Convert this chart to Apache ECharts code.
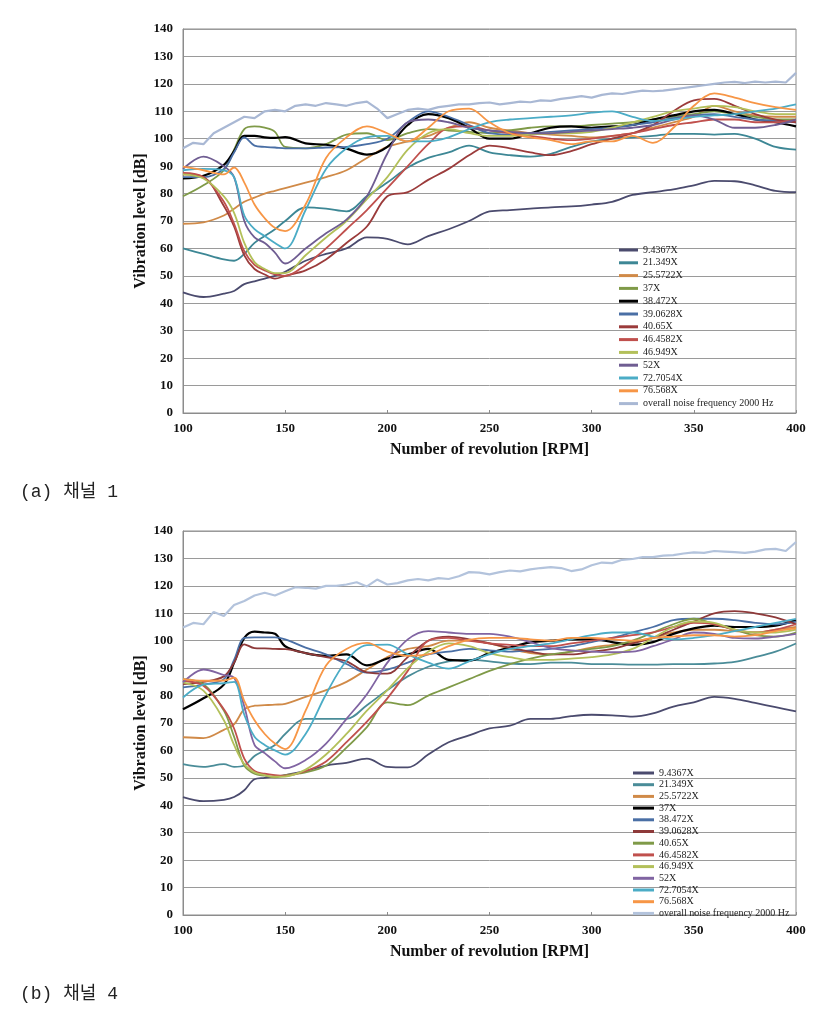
<!DOCTYPE html>
<html>
<head>
<meta charset="utf-8">
<script src="https://cdn.jsdelivr.net/npm/echarts@6/dist/echarts.min.js"></script>
<style>
html,body{margin:0;padding:0;background:#fff;}
#chart{width:825px;height:1012px;}
</style>
</head>
<body>
<div id="chart"></div>
<script>
// ---- Data ----
const seriesNames1 = ['9.4367X','21.349X','25.5722X','37X','38.472X','39.0628X','40.65X','46.4582X','46.949X','52X','72.7054X','76.568X','overall noise frequency 2000 Hz'];
const seriesNames2 = ['9.4367X','21.349X','25.5722X','37X','38.472X','39.0628X','40.65X','46.4582X','46.949X','52X','72.7054X','76.568X','overall noise frequency 2000 Hz'];
const xTicks = [100,150,200,250,300,350,400];
const yTicks = [0,10,20,30,40,50,60,70,80,90,100,110,120,130,140];

const rpm = [100,110,120,125,130,135,140,145,150,160,170,180,190,200,210,220,230,240,250,260,270,280,290,300,310,320,330,340,350,360,370,380,390,400];
const rpmFine = [100,105,110,115,120,125,130,135,140,145,150,155,160,165,170,175,180,185,190,195,200,205,210,215,220,225,230,235,240,245,250,255,260,265,270,275,280,285,290,295,300,305,310,315,320,325,330,335,340,345,350,355,360,365,370,375,380,385,390,395,400];

// Channel 1
const c1_94367 = [44,42.3,43.5,44.5,47,48,49,50,51.5,55.5,58,60,64,63.5,61.5,64.5,67,70,73.5,74,74.5,75,75.3,76,77,79.5,80.5,81.5,83,84.6,84.5,83,81,80.5];
const c1_21349 = [60,58,56,55.5,58,62,64.5,67,70,75,74.5,73.5,79,84,89.5,93,95,97.5,95,94,93.5,94.5,97,99,100,100.5,101,101.8,101.8,101.5,101.8,100,97,96];
const c1_255722 = [69,69.5,72,74.5,77,78.5,80,81,82,84,86,88.5,93,97,99,101,104,106,104,103,102,101.5,101,100.5,101,102,104,106,108,112,110,108.5,108,108];
const c1_37 = [79,83,88.5,96,103.5,104.5,104,102.5,97,96.5,98,101.5,102,99.5,102,103.5,103,102.5,102,103,104,104.5,104.5,105,105.5,106,107,108,109,110,109,108,107,107];
const c1_38472 = [85.5,86.5,90.5,95.5,101,101,100.5,100.3,100.6,98.3,97.8,96.4,94.2,97,105,109,107.5,104,100,100,102,104,104.5,104,104.5,105,107,108.5,110,110.5,109,107,106,104.5];
const c1_390628 = [86,86,89,95,100.5,97.5,97,96.8,96.5,96.5,96.8,97,98,100,106,110,108,105,102,101.5,102,102.5,103,103.5,104,105,106,107.5,108.5,109,108,107,106.5,106];
const c1_4065 = [87,86,75.5,68,57.5,52.5,50.5,49,50,52,56,62,68,79,80.5,85,89,94,97.5,96.5,95,94,95.5,98,100,102,105,110,114,114.5,112,109,107,106];
const c1_464582 = [87.5,86,77,69,59,54,52,50.5,50,54,60,67,74,82,90,98,104,104.5,103,102,101,100,99.5,100,101,102,103.5,105,106,107,107,106,106,107];
const c1_46949 = [87,85.5,79,73,62,55,52.5,51,51,57.5,64,70,78,86,96,102,103.5,102,101,101,101.5,102,102,102.5,104,106,108,110,111,112,111.5,110,109,109];
const c1_52 = [89,93.5,90,86,70,64,62,58.5,54.5,60,65.5,70.5,79,94.6,106,107,106,104,103,102.5,102,102,102.5,103,103.5,104,105,107,108.5,107,104,104,105,107];
const c1_727054 = [88.5,89,88.5,86,72,67,64.5,62,60,74,89,96.5,100.5,101,99,99,100.5,103.5,106,107,107.5,108,108.5,109.5,110,108,106.5,107,108,108.5,109,110,111,112.5];
const c1_76568 = [89.8,88.5,87,89.5,84,76,71,67.5,66.3,76,93,100.5,104.5,102,99,104,110,111,106,102,100.5,99.5,98,99,99,101,98.5,104,112,116.5,115,113,111.5,110.5];
const c1_overall = [96.5,98.5,98,102,104,106,108,107.5,110,110.5,110,112,112.5,112,113,112.5,112,113,113.5,111,107.5,109,110.5,111,110.5,111.5,112,112.5,112.5,113,113.2,112.5,113,113.5,113.3,114,113.8,114.5,115,115.5,115,116,116.5,116.3,117,117.5,117.3,117.5,118,118.5,119,119.5,120,120.5,120.7,120.3,120.8,120.5,120.8,120.5,124];

// Channel 4
const c2_94367 = [43,41.5,42,43,45.5,49.5,50,50.5,51,52.5,54.5,55.5,57,54,53.8,58.5,63,65.5,68,69,71.5,71.5,72.5,73,72.8,72.3,73.5,76,77.5,79.5,78.8,77.3,75.8,74.2];
const c2_21349 = [55,54,55,54,54.5,58,60,62,66,71.5,71.5,71.5,76.5,82,87,90.5,92.5,93,92.5,91.7,91.5,92,92,91.5,91.5,91.3,91.3,91.5,91.5,91.7,92.3,94,96,99];
const c2_255722 = [64.8,64.5,67.5,69.5,75,76.3,76.5,76.7,77,79.5,82,85,89.5,94,97,98,100,100,99,97,95.5,95,96,97.5,98.5,99.5,101,103,104,104,103.5,103,104,105];
const c2_37 = [75,79,84,92,101,103.3,103,102.5,98,95.5,94.5,95,91,93.5,95,97,93,92.7,95.5,97.5,99.4,100,100.5,100.6,99.5,98.5,99.5,102.5,104.5,105.5,105,105,105.5,107.5];
const c2_38472 = [83,84,86,93,101,101.2,101.2,101.2,100.5,97.5,95,91.5,88.4,89.5,92,95,96,97,96.5,96,96.5,97,98,99.5,101,103,105,107.5,108,108,107.5,106.5,106,107];
const c2_390628 = [84.2,85,87,92,98.7,97.3,97.2,97,96.9,95.5,94,92.5,88.5,88,94,100,101.5,100.5,99,97.5,96,95,95,96,97,99,101,104,107,110,110.8,110,108.5,106];
const c2_4065 = [86,84.2,74.5,65,54.5,51.5,50.8,50.2,51,52,54.5,61,68.5,77.5,76.5,80,83,86,89,91.5,93.5,95,96,97,98,100,103,106,108,106,104,102,101.5,103];
const c2_464582 = [85.4,83.6,75,68,57,52.5,51.5,51,50.8,52.5,56,63,70.5,79,89,100,101,100,99,98.5,98,98,99,100,101,102,103,105,106.5,106,104,103,104,106];
const c2_46949 = [84.8,81.8,71,62,55,52,51,50.4,50.5,53,58.5,66,74.5,82,90,96,99,98,95.5,94,93,93,93.5,94,95,97,101,105,107,106.5,104,103,103,104];
const c2_52 = [84.8,89.5,87.5,86.5,76,62,59,56,53.5,56.5,62.5,71.5,80.5,92,100.5,103.5,103,102.5,102.5,101.5,99.5,97.3,96.5,96,95.8,96,98,100.5,103,102.5,101,100.8,101.5,102.5];
const c2_727054 = [79.3,84,84.5,85,73,65,62,60,58.5,66,80.5,92.7,98.4,98.6,95,92,89.8,92.5,95,97,98,99,100.5,102,103,103,101.5,100.5,101,102,103.5,105,106.5,108];
const c2_76568 = [86,85.4,85.5,86.5,78,71,66,62.5,60.5,74.5,91,97,99.2,96,94.5,95,98,100.3,101,101,100.5,100,101,101,100.5,100,101,101.5,102,102,101.5,102,103.5,104.5];
const c2_overall = [104.8,106.5,106,110.5,109,113,114.5,116.5,117.5,116.5,118,119.5,119.3,119,120,120,120.5,121.3,119.8,122.3,120.5,121,122,122.5,122,122.8,122.5,123.5,125,124.8,124.2,125,125.6,125.3,126,126.5,126.8,126.5,125.4,126,127.5,128.5,128.3,129.5,129.8,130.5,130.5,131,131.2,131.8,132.2,132,132.7,132.5,132.3,132,132.5,133.3,133.5,132.7,136];

// ---- Styles ----
const colors1 = ['#4b4b6e','#3d8795','#d08a48','#7f9a48','#000000','#4a6fa5','#9b3b3b','#c0504d','#b3c05a','#6f5d92','#4bacc6','#f79646','#a9b8d4'];
const colors2 = ['#4b4b6e','#4a8c98','#d08a48','#000000','#4a6fa5','#8e3a3a','#7f9a48','#c0504d','#b3c05a','#8064a2','#4bacc6','#f79646','#b3c3dc'];
const serif = "'Liberation Serif', 'Times New Roman', serif";
const captionFont = "'Liberation Mono', 'Noto Sans CJK KR', monospace";

const data1 = [c1_94367,c1_21349,c1_255722,c1_37,c1_38472,c1_390628,c1_4065,c1_464582,c1_46949,c1_52,c1_727054,c1_76568,c1_overall];
const data2 = [c2_94367,c2_21349,c2_255722,c2_37,c2_38472,c2_390628,c2_4065,c2_464582,c2_46949,c2_52,c2_727054,c2_76568,c2_overall];

function buildSeries(names, arrays, colors, gi) {
  return names.map((n, i) => {
    const isOverall = i === names.length - 1;
    const xs = isOverall ? rpmFine : rpm;
    return {
      name: n, type: 'line', xAxisIndex: gi, yAxisIndex: gi,
      data: xs.map((x, k) => [x, arrays[i][k]]),
      symbol: 'none', smooth: isOverall ? false : 0.35,
      lineStyle: { color: colors[i], width: isOverall ? 2.2 : (colors[i] === '#000000' ? 2.2 : 1.8) },
      itemStyle: { color: colors[i] },
      animation: false
    };
  });
}

function axisX(gi) {
  return {
    gridIndex: gi, type: 'value', min: 100, max: 400, interval: 50,
    name: 'Number of revolution [RPM]', nameLocation: 'middle', nameGap: 29, nameMoveOverlap: false,
    nameTextStyle: { fontFamily: serif, fontWeight: 'bold', fontSize: 16, color: '#111' },
    axisLine: { lineStyle: { color: '#8c8c8c', width: 1 } },
    axisTick: { show: true, inside: true, length: 3, lineStyle: { color: '#8c8c8c' } },
    axisLabel: { fontFamily: serif, fontWeight: 'bold', fontSize: 13, color: '#111', margin: 9 },
    splitLine: { show: false }
  };
}
function axisY(gi) {
  return {
    gridIndex: gi, type: 'value', min: 0, max: 140, interval: 10,
    name: 'Vibration level [dB]', nameLocation: 'middle', nameGap: 34, nameRotate: 90, nameMoveOverlap: false,
    nameTextStyle: { fontFamily: serif, fontWeight: 'bold', fontSize: 16, color: '#111' },
    axisLine: { show: true, lineStyle: { color: '#8c8c8c', width: 1 } },
    axisTick: { show: false },
    axisLabel: { fontFamily: serif, fontWeight: 'bold', fontSize: 13, color: '#111', margin: 10 },
    splitLine: { show: true, lineStyle: { color: '#9a9a9a', width: 1 } }
  };
}

function buildLegend(names, colors, left, top, gap, iw) {
  return {
    orient: 'vertical', left: left, top: top, padding: 0,
    icon: 'rect', itemWidth: iw, itemHeight: 3, itemGap: gap,
    selectedMode: false,
    textStyle: { fontFamily: serif, fontSize: 10, lineHeight: 10, color: '#222' },
    data: names.map((n, i) => ({ name: n, icon: 'rect', itemStyle: { color: colors[i] } }))
  };
}

const chart = echarts.init(document.getElementById('chart'), null, { renderer: 'canvas' });
chart.setOption({
  backgroundColor: '#ffffff',
  animation: false,
  grid: [
    { left: 183, top: 29, width: 613, height: 384, show: true, borderColor: '#8c8c8c', borderWidth: 1 },
    { left: 183, top: 531, width: 613, height: 384, show: true, borderColor: '#8c8c8c', borderWidth: 1 }
  ],
  xAxis: [axisX(0), axisX(1)],
  yAxis: [axisY(0), axisY(1)],
  legend: [
    buildLegend(seriesNames1, colors1, 619, 245, 2.8, 19),
    buildLegend(seriesNames2, colors2, 633, 768, 1.7, 21)
  ],
  graphic: [
    { type: 'text', left: 20, top: 483, style: { text: '(a) 채널 1', font: "18px " + captionFont, fill: '#222' } },
    { type: 'text', left: 20, top: 985, style: { text: '(b) 채널 4', font: "18px " + captionFont, fill: '#222' } }
  ],
  series: buildSeries(seriesNames1, data1, colors1, 0).concat(buildSeries(seriesNames2, data2, colors2, 1))
});
</script>
</body>
</html>
